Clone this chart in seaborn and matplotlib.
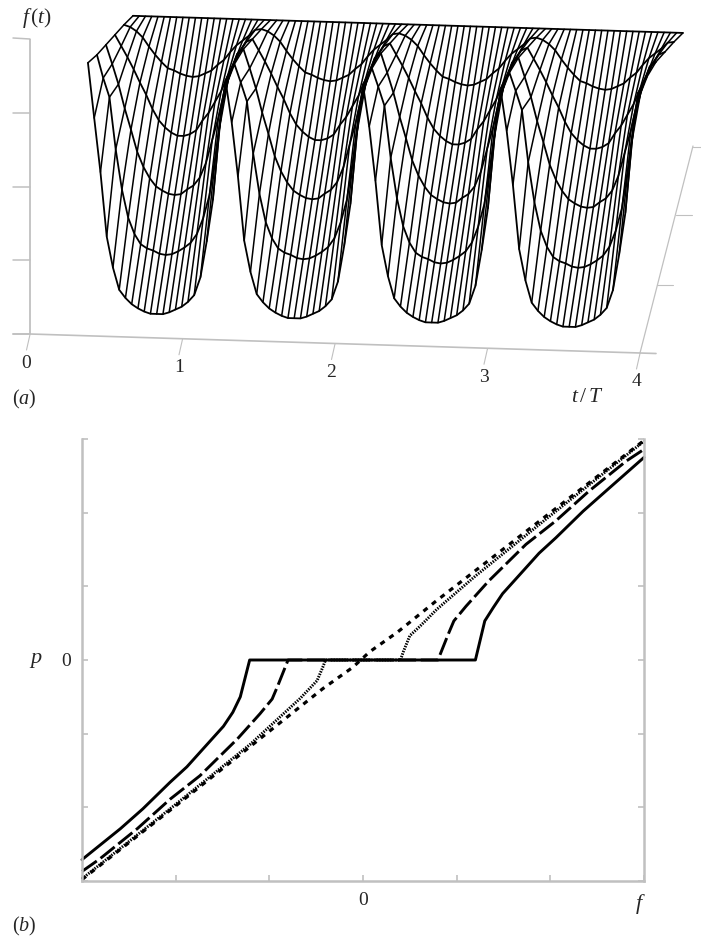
import numpy as np
import pandas as pd
import matplotlib
matplotlib.use("Agg")
import matplotlib.pyplot as plt
import seaborn as sns

# (a) surface heights, one period per row (front to back)
row0 = [260, 218, 164, 100, 69, 47, 39, 33, 29, 26, 24, 24, 24, 26, 29, 32, 37, 44, 62, 98, 140, 210]
row1 = [276, 258, 239, 187, 147, 119, 103, 93, 89, 87, 84, 83, 84, 87, 91, 96, 105, 121, 144, 185, 235, 260]
row2 = [291, 272, 252, 228, 207, 185, 170, 159, 151, 147, 144, 143, 144, 149, 153, 161, 176, 199, 222, 250, 270, 286]
row3 = [301, 290, 279, 267, 254, 242, 228, 217, 210, 205, 202, 202, 204, 208, 218, 226, 237, 248, 263, 276, 288, 298]
row4 = [311, 309, 305, 299, 290, 282, 275, 269, 267, 264, 262, 261, 262, 265, 268, 274, 279, 287, 294, 299, 304, 310]
row5 = [320, 320, 320, 320, 320, 320, 320, 320, 320, 320, 320, 320, 320, 320, 320, 320, 320, 320, 320, 320, 320, 320]
start_edge = [273, 281, 291, 301, 311, 320]

t_tick_labels = ["0", "1", "2", "3", "4"]
f_ticks = [0, 73.75, 147.5, 221.25, 295]
depth_ticks = [0.33, 0.67, 1.0]

# (b) p against f for the four curves
solid_f = [-3.0, -2.59, -2.35, -2.06, -1.88, -1.71, -1.49, -1.39, -1.31, -1.21, 1.2, 1.3, 1.39, 1.49, 1.71, 1.88, 2.06, 2.35, 2.59, 3.0]
solid_p = [-2.71, -2.29, -2.02, -1.66, -1.45, -1.21, -0.9, -0.71, -0.5, 0, 0, 0.53, 0.71, 0.9, 1.21, 1.45, 1.66, 2.02, 2.29, 2.75]
dashed_f = [-3.0, -2.81, -2.41, -2.06, -1.74, -1.34, -1.1, -0.97, -0.91, -0.8, 0.8, 0.91, 0.97, 1.1, 1.34, 1.74, 2.06, 2.41, 2.81, 3.0]
dashed_p = [-2.87, -2.7, -2.29, -1.89, -1.57, -1.07, -0.73, -0.53, -0.35, 0, 0, 0.35, 0.53, 0.73, 1.07, 1.57, 1.89, 2.29, 2.7, 2.86]
dotted_f = [-3.0, -2.0, -1.2, -0.67, -0.49, -0.43, -0.4, 0.4, 0.43, 0.5, 0.61, 0.79, 1.2, 2.0, 3.0]
dotted_p = [-2.97, -1.96, -1.14, -0.52, -0.28, -0.1, 0, 0, 0.11, 0.33, 0.46, 0.69, 1.14, 1.96, 2.97]
short_f = [-3.0, -1.93, -0.43, -0.11, 0.07, 0.37, 0.77, 2.0, 3.0]
short_p = [-2.98, -1.91, -0.39, -0.1, 0.11, 0.38, 0.79, 2.0, 2.98]

GREY = "#c0c0c0"

sns.set_style("white")
plt.rcParams["font.family"] = ["Liberation Serif", "DejaVu Serif"]
plt.rcParams["mathtext.fontset"] = "custom"
plt.rcParams["mathtext.rm"] = "Liberation Serif"
plt.rcParams["mathtext.it"] = "Liberation Serif:italic"

fig = plt.figure(figsize=(7.01, 9.39), dpi=100)
H = 939.0


def project(t, f, shift=0.0):
    return 30 + 152.5 * np.asarray(t) + shift, 334 + 4.75 * np.asarray(t) - np.asarray(f)


# --- panel (a) ---
ax = fig.add_axes([0, 1 - 420 / H, 1, 420 / H])
ax.set_xlim(0, 701)
ax.set_ylim(420, 0)
ax.axis("off")

# grey box of the 3d plot
ax.plot([30, 30], [39, 334], color=GREY, lw=1.3, solid_capstyle="butt")
xb, yb = project([0, 4], [0, 0])
ax.plot([13, xb[0], xb[1], xb[1] + 16], [334, yb[0], yb[1], yb[1] + 0.5], color=GREY, lw=1.2)
ax.plot([xb[1], 693], [yb[1], 146], color=GREY, lw=0.9)
for v in f_ticks:
    ax.plot([13, 30], [334 - v - (1 if v == 295 else 0), 334 - v], color=GREY, lw=1.1)
for i, lab in enumerate(t_tick_labels):
    x0, y0 = project(i, 0)
    ax.plot([x0, x0 - 3.5], [y0 + 0.5, y0 + 16], color=GREY, lw=0.8)
    ax.text(x0 - 3.5, y0 + 29, lab, ha="center", va="center", fontsize=14)
for d in depth_ticks:
    xd = xb[1] + 53 * d
    yd = yb[1] - 206.5 * d
    ax.plot([xd, xd + 16], [yd, yd], color=GREY, lw=0.8)
ax.text(37, 18, r"$f\,(t)$", ha="center", va="center", fontsize=15.5)
ax.text(24, 399, r"($a$)", ha="center", va="center", fontsize=14.5)
ax.text(587, 397, r"$t\,/\,T$", ha="center", va="center", fontsize=15.5)

rows = [row0, row1, row2, row3, row4, row5]
n_cols = 4 * len(row0) + 1
recs = []
for r, vals in enumerate(rows):
    heights = np.array(vals * 4 + [vals[0]], dtype=float)
    heights[0] = start_edge[r]
    tt = 0.38 + 0.9016 * np.arange(n_cols) / len(row0)
    xs, ys = project(tt, heights, shift=9 * r)
    recs.append(pd.DataFrame({"x": xs, "y": ys, "row": r, "col": np.arange(n_cols)}))
surface = pd.concat(recs, ignore_index=True)

sns.lineplot(data=surface, x="x", y="y", units="col", estimator=None, sort=False,
             color="black", lw=1.1, ax=ax, legend=False)
sns.lineplot(data=surface, x="x", y="y", units="row", estimator=None, sort=False,
             color="black", lw=1.3, ax=ax, legend=False)
ax.set_xlim(0, 701)
ax.set_ylim(420, 0)
ax.axis("off")

# --- panel (b) ---
bx = fig.add_axes([82 / 701, 1 - 881 / H, 562 / 701, 442 / H])
curves = [
    (solid_f, solid_p, "-", 2.1),
    (dashed_f, dashed_p, (0, (6.2, 1.6)), 2.1),
    (short_f, short_p, (0, (1.6, 1.8)), 2.3),
    (dotted_f, dotted_p, (0, (0.5, 0.42)), 2.1),
]
for xs, ys, ls, w in curves:
    sns.lineplot(x=xs, y=ys, estimator=None, sort=False, color="black",
                 lw=w, linestyle=ls, ax=bx, clip_on=False)

bx.set_xlim(-3, 3)
bx.set_ylim(-3, 3)
bx.set_xticks(range(-3, 4))
bx.set_yticks(range(-3, 4))
bx.set_xticklabels(["0" if v == 0 else "" for v in range(-3, 4)], fontsize=14)
bx.set_yticklabels(["0" if v == 0 else "" for v in range(-3, 4)], fontsize=14)
bx.tick_params(axis="both", direction="in", length=4.3, width=1.2, color=GREY,
               left=True, right=True, bottom=True, pad=8)
bx.set_xlabel("")
bx.set_ylabel("")
bx.spines["top"].set_visible(False)
for side in ["left", "right", "bottom"]:
    bx.spines[side].set_color(GREY)
    bx.spines[side].set_linewidth(1.8)

fig.text(36 / 701, 1 - 661 / H, r"$p$", ha="center", va="center", fontsize=16)
fig.text(640 / 701, 1 - 904 / H, r"$f$", ha="center", va="center", fontsize=16)
fig.text(24 / 701, 1 - 926 / H, r"($b$)", ha="center", va="center", fontsize=14.5)

fig.savefig("out.png", dpi=100)
